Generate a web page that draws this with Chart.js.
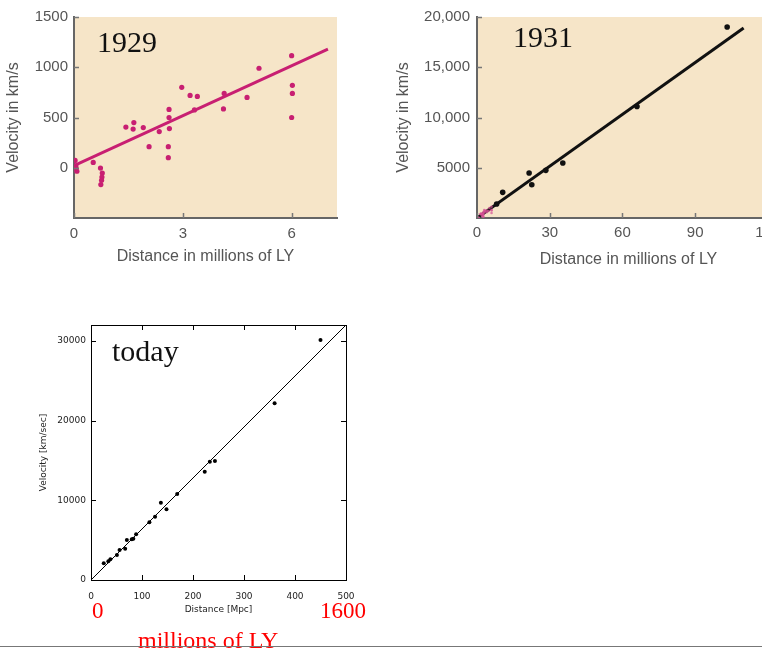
<!DOCTYPE html>
<html>
<head>
<meta charset="utf-8">
<title>Hubble law: 1929, 1931, today</title>
<script src="https://cdn.jsdelivr.net/npm/chart.js@4.4.0/dist/chart.umd.min.js"></script>
<style>
  html, body { margin: 0; padding: 0; background: #fff; overflow: hidden; }
  body { position: relative; width: 762px; height: 648px; }
  canvas { position: absolute; }
  .lbl { position: absolute; font-family: "Liberation Serif", "Times New Roman", serif; line-height: 1; white-space: nowrap; }
  .year { font-size: 30px; color: #111; }
  .red { color: #f00; }
  .rule { position: absolute; left: 0; top: 646px; width: 762px; height: 1px; background: #777; }
</style>
</head>
<body>
<canvas id="c1929" width="380" height="270" style="left:0;top:0"></canvas>
<canvas id="c1931" width="420" height="280" style="left:380px;top:0"></canvas>
<canvas id="cToday" width="380" height="330" style="left:0;top:300px"></canvas>

<div class="lbl year" style="left:97px;top:27px">1929</div>
<div class="lbl year" style="left:513px;top:22px">1931</div>
<div class="lbl year" style="left:112px;top:336px">today</div>
<div class="lbl red" style="left:92px;top:599px;font-size:23px">0</div>
<div class="lbl red" style="left:320px;top:599px;font-size:23px">1600</div>
<div class="lbl red" style="left:138px;top:628px;font-size:24px">millions of LY</div>
<div class="rule"></div>

<script>
// 1929 (distance in millions of LY, velocity in km/s)
const dist1929 = [0.03, 0.05, 0.06, 0.08, 0.53, 0.73, 0.78, 0.77, 0.76, 0.74, 1.43, 1.65, 1.63, 1.91, 2.07, 2.35, 2.62, 2.62, 2.63, 2.6, 2.6, 2.97, 3.2, 3.4, 3.32, 4.14, 4.12, 4.77, 5.1, 6.0, 6.02, 6.02, 6.0];
const vel1929 = [73, 20, -5, -35, 53, -3, -53, -93, -125, -167, 405, 450, 385, 400, 210, 360, 580, 500, 390, 210, 100, 800, 720, 710, 575, 740, 585, 700, 990, 1115, 820, 740, 500];
const fitX1929 = [0, 7];
const fitY1929 = [20, 1180];
const xTicks1929 = [0, 3, 6];
const yTicks1929 = [0, 500, 1000, 1500];

// 1931
const dist1931 = [8.1, 10.6, 21.5, 22.6, 28.4, 35.4, 66, 103.2];
const vel1931 = [1390, 2550, 4480, 3310, 4740, 5470, 11100, 19000];
const fitX1931 = [0, 110];
const fitY1931 = [0, 18900];
const xTicks1931 = [0, 30, 60, 90, 120];
const yTicks1931 = [5000, 10000, 15000, 20000];
const yLabels1931 = ["5000", "10,000", "15,000", "20,000"];

// today (distance in Mpc, velocity in km/sec)
const distToday = [25, 34, 38, 50.8, 56, 67, 70.3, 80, 83, 88.5, 114.5, 125.6, 137, 148, 169, 223, 233, 243, 360, 450];
const velToday = [2090, 2340, 2600, 3140, 3760, 3930, 5020, 5100, 5190, 5730, 7240, 7950, 9700, 8870, 10790, 13590, 14840, 14930, 22170, 30110];
const fitXToday = [0, 500];
const fitYToday = [0, 32000];
const xTicksToday = [0, 100, 200, 300, 400, 500];
const yTicksToday = [0, 10000, 20000, 30000];

const pts = (xs, ys) => xs.map((x, i) => ({ x: x, y: ys[i] }));
const fixTicks = (vals) => (scale) => { scale.ticks = vals.map((v) => ({ value: v })); };

// fills the plot area
const plotBg = {
  id: "plotBg",
  beforeDraw(chart, args, opts) {
    if (!opts.color) return;
    const a = chart.chartArea;
    chart.ctx.save();
    chart.ctx.fillStyle = opts.color;
    chart.ctx.fillRect(a.left, a.top, a.right - a.left, a.bottom - a.top);
    chart.ctx.restore();
  },
};

// tick marks pointing into the plot, optionally on all four sides + frame
const innerTicks = {
  id: "innerTicks",
  afterDatasetsDraw(chart, args, o) {
    const { ctx, chartArea: a, scales } = chart;
    const len = o.length || 5;
    ctx.save();
    ctx.strokeStyle = o.color || "#000";
    ctx.lineWidth = o.width || 1;
    ctx.beginPath();
    scales.x.ticks.forEach((t) => {
      const px = Math.round(scales.x.getPixelForValue(t.value)) + 0.5;
      ctx.moveTo(px, a.bottom); ctx.lineTo(px, a.bottom - len);
      if (o.mirror) { ctx.moveTo(px, a.top); ctx.lineTo(px, a.top + len); }
    });
    scales.y.ticks.forEach((t) => {
      const py = Math.round(scales.y.getPixelForValue(t.value)) + 0.5;
      ctx.moveTo(a.left, py); ctx.lineTo(a.left + len, py);
      if (o.mirror) { ctx.moveTo(a.right, py); ctx.lineTo(a.right - len, py); }
    });
    ctx.stroke();
    if (o.frame) {
      ctx.strokeRect(Math.round(a.left) + 0.5, Math.round(a.top) + 0.5,
        Math.round(a.right - a.left), Math.round(a.bottom - a.top));
    }
    ctx.restore();
  },
};

const sans = "'Liberation Sans', Arial, sans-serif";
const noGrid = { display: false, drawTicks: false };

// 1929
new Chart(document.getElementById("c1929"), {
  type: "scatter",
  data: {
    datasets: [
      { data: pts(dist1929, vel1929), pointRadius: 2.6, pointBackgroundColor: "#c81f72", pointBorderWidth: 0 },
      { data: pts(fitX1929, fitY1929), showLine: true, pointRadius: 0, borderColor: "#c81f72", borderWidth: 3 },
    ],
  },
  options: {
    responsive: false,
    animation: false,
    layout: { padding: { top: 17, right: 43, left: 0, bottom: 0 } },
    plugins: {
      legend: { display: false },
      tooltip: { enabled: false },
      plotBg: { color: "#f6e5c8" },
      innerTicks: { color: "#777", width: 1.5, length: 5 },
    },
    scales: {
      x: {
        min: 0, max: 7.25,
        afterBuildTicks: fixTicks(xTicks1929),
        afterFit: (s) => { s.height = 52; },
        grid: noGrid,
        border: { color: "#666", width: 2 },
        ticks: { color: "#555", padding: 7, font: { family: sans, size: 15 }, callback: (v) => String(v) },
        title: { display: true, text: "Distance in millions of LY", color: "#555", padding: { top: 0, bottom: 4 }, font: { family: sans, size: 16 } },
      },
      y: {
        min: -500, max: 1500,
        afterBuildTicks: fixTicks(yTicks1929),
        afterFit: (s) => { s.width = 74; },
        grid: noGrid,
        border: { color: "#666", width: 2 },
        ticks: { color: "#555", padding: 6, font: { family: sans, size: 15 }, callback: (v) => String(v) },
        title: { display: true, text: "Velocity in km/s", color: "#555", padding: { top: 4, bottom: 0 }, font: { family: sans, size: 16 } },
      },
    },
  },
  plugins: [plotBg, innerTicks],
});

// 1931
new Chart(document.getElementById("c1931"), {
  type: "scatter",
  data: {
    datasets: [
      { data: pts(dist1931, vel1931), pointRadius: 2.8, pointBackgroundColor: "#111", pointBorderWidth: 0 },
      { data: pts(dist1929, vel1929), pointRadius: 1.3, pointBackgroundColor: "rgba(214,80,150,0.7)", pointBorderWidth: 0 },
      { data: pts(fitX1931, fitY1931), showLine: true, pointRadius: 0, borderColor: "#111", borderWidth: 3 },
    ],
  },
  options: {
    responsive: false,
    animation: false,
    layout: { padding: { top: 17, right: 20, left: 0, bottom: 0 } },
    plugins: {
      legend: { display: false },
      tooltip: { enabled: false },
      plotBg: { color: "#f6e5c8" },
      innerTicks: { color: "#777", width: 1.5, length: 5 },
    },
    scales: {
      x: {
        min: 0, max: 125,
        afterBuildTicks: fixTicks(xTicks1931),
        afterFit: (s) => { s.height = 62; },
        grid: noGrid,
        border: { color: "#666", width: 2 },
        ticks: { color: "#555", padding: 6, font: { family: sans, size: 15 }, callback: (v) => String(v) },
        title: { display: true, text: "Distance in millions of LY", color: "#555", padding: { top: 0, bottom: 11 }, font: { family: sans, size: 16 } },
      },
      y: {
        min: 0, max: 20000,
        afterBuildTicks: fixTicks(yTicks1931),
        afterFit: (s) => { s.width = 97; },
        grid: noGrid,
        border: { color: "#666", width: 2 },
        ticks: { color: "#555", padding: 7, font: { family: sans, size: 15 }, callback: (v, i) => yLabels1931[i] },
        title: { display: true, text: "Velocity in km/s", color: "#555", padding: { top: 14, bottom: 0 }, font: { family: sans, size: 16 } },
      },
    },
  },
  plugins: [plotBg, innerTicks],
});

// today
const small = "'DejaVu Sans', sans-serif";
new Chart(document.getElementById("cToday"), {
  type: "scatter",
  data: {
    datasets: [
      { data: pts(distToday, velToday), pointRadius: 2, pointBackgroundColor: "#000", pointBorderWidth: 0 },
      { data: pts(fitXToday, fitYToday), showLine: true, pointRadius: 0, borderColor: "#000", borderWidth: 1 },
    ],
  },
  options: {
    responsive: false,
    animation: false,
    layout: { padding: { top: 25, right: 34, left: 0, bottom: 0 } },
    plugins: {
      legend: { display: false },
      tooltip: { enabled: false },
      innerTicks: { color: "#000", width: 1, length: 5, mirror: true, frame: true },
    },
    scales: {
      x: {
        min: 0, max: 500,
        afterBuildTicks: fixTicks(xTicksToday),
        afterFit: (s) => { s.height = 50; },
        grid: noGrid,
        border: { color: "#000", width: 1 },
        ticks: { color: "#222", padding: 11, font: { family: small, size: 9 }, callback: (v) => String(v) },
        title: { display: true, text: "Distance [Mpc]", color: "#222", padding: { top: 0, bottom: 15 }, font: { family: small, size: 9 } },
      },
      y: {
        min: 0, max: 32000,
        afterBuildTicks: fixTicks(yTicksToday),
        afterFit: (s) => { s.width = 91; },
        grid: noGrid,
        border: { color: "#000", width: 1 },
        ticks: { color: "#222", padding: 5, font: { family: small, size: 9 }, callback: (v) => String(v) },
        title: { display: true, text: "Velocity [km/sec]", color: "#222", padding: { top: 38, bottom: 0 }, font: { family: small, size: 9 } },
      },
    },
  },
  plugins: [plotBg, innerTicks],
});
</script>
</body>
</html>
